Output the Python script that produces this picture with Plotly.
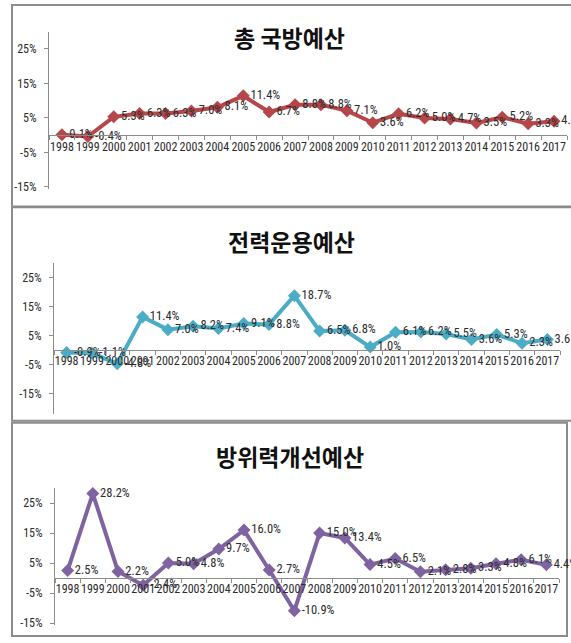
import plotly.graph_objects as go

# Annual growth rates (%) of the Korean defence budget, 1998-2017
years = ["1998", "1999", "2000", "2001", "2002", "2003", "2004", "2005", "2006", "2007",
         "2008", "2009", "2010", "2011", "2012", "2013", "2014", "2015", "2016", "2017"]

total_budget = [0.1, -0.4, 5.3, 6.3, 6.3, 7.0, 8.1, 11.4, 6.7, 8.8,
                8.8, 7.1, 3.6, 6.2, 5.0, 4.7, 3.5, 5.2, 3.3, 4.0]
operations_budget = [-0.9, -1.1, -4.8, 11.4, 7.0, 8.2, 7.4, 9.1, 8.8, 18.7,
                     6.5, 6.8, 1.0, 6.1, 6.2, 5.5, 3.6, 5.3, 2.3, 3.6]
improvement_budget = [2.5, 28.2, 2.2, -2.4, 5.0, 4.8, 9.7, 16.0, 2.7, -10.9,
                      15.0, 13.4, 4.5, 6.5, 2.1, 2.8, 3.3, 4.8, 6.1, 4.4]

titles = ["총 국방예산", "전력운용예산", "방위력개선예산"]
colors = ["#B5474B", "#4BACC6", "#7F63A1"]
ytick_vals = [-15, -5, 5, 15, 25]
ytick_text = ["-15%", "-5%", "5%", "15%", "25%"]

W, H = 571, 643

def px_x(x):
    return x / W

def px_y(y):
    return 1 - y / H

# panel geometry in pixels: box, plot area, value range, title centre
panels = [
    dict(box=(12, 5, 590, 208), plot_x=(49, 567), plot_y=(32, 190), yr=(-15.5, 30), title=(289, 37)),
    dict(box=(12, 209, 590, 424), plot_x=(54, 560), plot_y=(265, 417), yr=(-22, 30), title=(291, 243)),
    dict(box=(12, 426, 567, 641), plot_x=(55, 559), plot_y=(492, 630), yr=(-15.7, 30), title=(290, 460)),
]
series = [total_budget, operations_budget, improvement_budget]

narrow = "Liberation Sans Narrow, Roboto Condensed, Roboto, sans-serif"
tick_font = dict(family=narrow, size=12, color="#2b2b2b")
label_font = dict(family=narrow, size=12.5, color="#2b2b2b")

fig = go.Figure()
layout = dict(
    width=W, height=H,
    margin=dict(l=0, r=0, t=0, b=0),
    paper_bgcolor="white", plot_bgcolor="white",
    showlegend=False,
    shapes=[], annotations=[],
)

for i, (p, vals, title, color) in enumerate(zip(panels, series, titles, colors)):
    n = "" if i == 0 else str(i + 1)
    xa, ya = "x" + n, "y" + n
    fig.add_trace(go.Scatter(
        x=years, y=vals, xaxis=xa, yaxis=ya,
        mode="lines+markers+text",
        line=dict(color=color, width=4),
        marker=dict(symbol="diamond", size=10, color=color),
        text=[f"{v:.1f}%" for v in vals],
        textposition="middle right",
        textfont=label_font,
        cliponaxis=False,
        hoverinfo="skip",
    ))

    y0, y1 = px_y(p["plot_y"][1]), px_y(p["plot_y"][0])
    r0, r1 = p["yr"]
    zero_pos = y0 + (0 - r0) / (r1 - r0) * (y1 - y0)

    layout["xaxis" + n] = dict(
        domain=[px_x(p["plot_x"][0]), px_x(p["plot_x"][1])],
        anchor="free", position=zero_pos,
        type="category", categoryorder="array", categoryarray=years,
        range=[-0.5, len(years) - 0.5],
        showline=True, linecolor="#8c8c8c", linewidth=1,
        ticks="outside", tickson="boundaries", ticklen=4, tickcolor="#8c8c8c",
        showgrid=False, zeroline=False,
        tickfont=tick_font, tickangle=0,
    )
    layout["yaxis" + n] = dict(
        domain=[y0, y1], anchor=xa, range=[r0, r1],
        tickvals=ytick_vals, ticktext=ytick_text,
        showline=True, linecolor="#8c8c8c", linewidth=1,
        ticks="outside", ticklen=4, tickcolor="#8c8c8c",
        ticklabelstandoff=5,
        showgrid=False, zeroline=False,
        tickfont=tick_font,
    )

    bx0, by0, bx1, by1 = p["box"]
    layout["shapes"].append(dict(
        type="rect", xref="paper", yref="paper",
        x0=px_x(bx0), x1=px_x(bx1), y0=px_y(by1), y1=px_y(by0),
        line=dict(color="#8c8c8c", width=2), fillcolor="rgba(0,0,0,0)", layer="below",
    ))
    layout["annotations"].append(dict(
        text=title, xref="paper", yref="paper",
        x=px_x(p["title"][0]), y=px_y(p["title"][1]),
        xanchor="center", yanchor="middle", showarrow=False,
        font=dict(family="Noto Sans CJK KR", size=23, color="#111111", weight="bold"),
    ))

fig.update_layout(**layout)
fig.write_html("out.html")
